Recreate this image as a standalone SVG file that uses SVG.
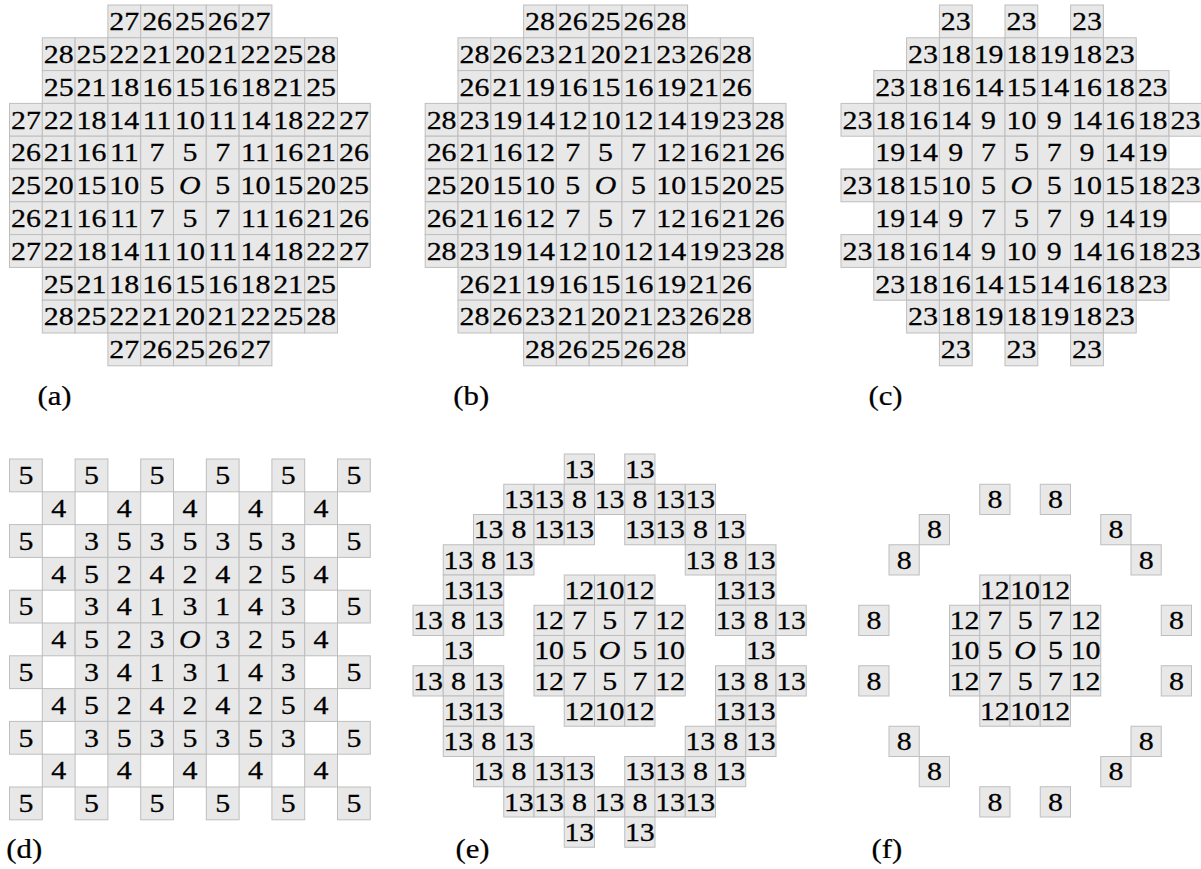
<svg xmlns="http://www.w3.org/2000/svg" width="1201" height="869" viewBox="0 0 1201 869">
<style>
rect{fill:#e8e8e8;stroke:#bebebe}
.g1 rect{stroke-width:0.305}
.g2 rect{stroke-width:0.33}
text{font-family:"Liberation Serif","Times New Roman",serif;fill:#000;stroke:#000}
.g1 text,.g2 text{text-anchor:middle;transform:scaleX(1.15);transform-box:fill-box;transform-origin:50% 50%}
.g1 text{font-size:7.93px;stroke-width:0.08}
.g2 text{font-size:8.6px;stroke-width:0.087}
.o{font-style:italic}
.lab{font-size:28px;stroke-width:0.25;transform:scaleX(1.1);transform-box:fill-box;transform-origin:50% 50%}
</style>
<rect width="1201" height="869" style="fill:#fff;stroke:none"/>

<g id="grid-a" class="g1" transform="translate(9.5,5) scale(3.28)">
<rect x="30" y="0" width="10" height="10"/><rect x="40" y="0" width="10" height="10"/><rect x="50" y="0" width="10" height="10"/><rect x="60" y="0" width="10" height="10"/><rect x="70" y="0" width="10" height="10"/>
<rect x="10" y="10" width="10" height="10"/><rect x="20" y="10" width="10" height="10"/><rect x="30" y="10" width="10" height="10"/><rect x="40" y="10" width="10" height="10"/><rect x="50" y="10" width="10" height="10"/><rect x="60" y="10" width="10" height="10"/><rect x="70" y="10" width="10" height="10"/><rect x="80" y="10" width="10" height="10"/><rect x="90" y="10" width="10" height="10"/>
<rect x="10" y="20" width="10" height="10"/><rect x="20" y="20" width="10" height="10"/><rect x="30" y="20" width="10" height="10"/><rect x="40" y="20" width="10" height="10"/><rect x="50" y="20" width="10" height="10"/><rect x="60" y="20" width="10" height="10"/><rect x="70" y="20" width="10" height="10"/><rect x="80" y="20" width="10" height="10"/><rect x="90" y="20" width="10" height="10"/>
<rect x="0" y="30" width="10" height="10"/><rect x="10" y="30" width="10" height="10"/><rect x="20" y="30" width="10" height="10"/><rect x="30" y="30" width="10" height="10"/><rect x="40" y="30" width="10" height="10"/><rect x="50" y="30" width="10" height="10"/><rect x="60" y="30" width="10" height="10"/><rect x="70" y="30" width="10" height="10"/><rect x="80" y="30" width="10" height="10"/><rect x="90" y="30" width="10" height="10"/><rect x="100" y="30" width="10" height="10"/>
<rect x="0" y="40" width="10" height="10"/><rect x="10" y="40" width="10" height="10"/><rect x="20" y="40" width="10" height="10"/><rect x="30" y="40" width="10" height="10"/><rect x="40" y="40" width="10" height="10"/><rect x="50" y="40" width="10" height="10"/><rect x="60" y="40" width="10" height="10"/><rect x="70" y="40" width="10" height="10"/><rect x="80" y="40" width="10" height="10"/><rect x="90" y="40" width="10" height="10"/><rect x="100" y="40" width="10" height="10"/>
<rect x="0" y="50" width="10" height="10"/><rect x="10" y="50" width="10" height="10"/><rect x="20" y="50" width="10" height="10"/><rect x="30" y="50" width="10" height="10"/><rect x="40" y="50" width="10" height="10"/><rect x="50" y="50" width="10" height="10"/><rect x="60" y="50" width="10" height="10"/><rect x="70" y="50" width="10" height="10"/><rect x="80" y="50" width="10" height="10"/><rect x="90" y="50" width="10" height="10"/><rect x="100" y="50" width="10" height="10"/>
<rect x="0" y="60" width="10" height="10"/><rect x="10" y="60" width="10" height="10"/><rect x="20" y="60" width="10" height="10"/><rect x="30" y="60" width="10" height="10"/><rect x="40" y="60" width="10" height="10"/><rect x="50" y="60" width="10" height="10"/><rect x="60" y="60" width="10" height="10"/><rect x="70" y="60" width="10" height="10"/><rect x="80" y="60" width="10" height="10"/><rect x="90" y="60" width="10" height="10"/><rect x="100" y="60" width="10" height="10"/>
<rect x="0" y="70" width="10" height="10"/><rect x="10" y="70" width="10" height="10"/><rect x="20" y="70" width="10" height="10"/><rect x="30" y="70" width="10" height="10"/><rect x="40" y="70" width="10" height="10"/><rect x="50" y="70" width="10" height="10"/><rect x="60" y="70" width="10" height="10"/><rect x="70" y="70" width="10" height="10"/><rect x="80" y="70" width="10" height="10"/><rect x="90" y="70" width="10" height="10"/><rect x="100" y="70" width="10" height="10"/>
<rect x="10" y="80" width="10" height="10"/><rect x="20" y="80" width="10" height="10"/><rect x="30" y="80" width="10" height="10"/><rect x="40" y="80" width="10" height="10"/><rect x="50" y="80" width="10" height="10"/><rect x="60" y="80" width="10" height="10"/><rect x="70" y="80" width="10" height="10"/><rect x="80" y="80" width="10" height="10"/><rect x="90" y="80" width="10" height="10"/>
<rect x="10" y="90" width="10" height="10"/><rect x="20" y="90" width="10" height="10"/><rect x="30" y="90" width="10" height="10"/><rect x="40" y="90" width="10" height="10"/><rect x="50" y="90" width="10" height="10"/><rect x="60" y="90" width="10" height="10"/><rect x="70" y="90" width="10" height="10"/><rect x="80" y="90" width="10" height="10"/><rect x="90" y="90" width="10" height="10"/>
<rect x="30" y="100" width="10" height="10"/><rect x="40" y="100" width="10" height="10"/><rect x="50" y="100" width="10" height="10"/><rect x="60" y="100" width="10" height="10"/><rect x="70" y="100" width="10" height="10"/>
<text x="35" y="7.68">27</text><text x="45" y="7.68">26</text><text x="55" y="7.68">25</text><text x="65" y="7.68">26</text><text x="75" y="7.68">27</text>
<text x="15" y="17.68">28</text><text x="25" y="17.68">25</text><text x="35" y="17.68">22</text><text x="45" y="17.68">21</text><text x="55" y="17.68">20</text><text x="65" y="17.68">21</text><text x="75" y="17.68">22</text><text x="85" y="17.68">25</text><text x="95" y="17.68">28</text>
<text x="15" y="27.68">25</text><text x="25" y="27.68">21</text><text x="35" y="27.68">18</text><text x="45" y="27.68">16</text><text x="55" y="27.68">15</text><text x="65" y="27.68">16</text><text x="75" y="27.68">18</text><text x="85" y="27.68">21</text><text x="95" y="27.68">25</text>
<text x="5" y="37.68">27</text><text x="15" y="37.68">22</text><text x="25" y="37.68">18</text><text x="35" y="37.68">14</text><text x="45" y="37.68">11</text><text x="55" y="37.68">10</text><text x="65" y="37.68">11</text><text x="75" y="37.68">14</text><text x="85" y="37.68">18</text><text x="95" y="37.68">22</text><text x="105" y="37.68">27</text>
<text x="5" y="47.68">26</text><text x="15" y="47.68">21</text><text x="25" y="47.68">16</text><text x="35" y="47.68">11</text><text x="45" y="47.68">7</text><text x="55" y="47.68">5</text><text x="65" y="47.68">7</text><text x="75" y="47.68">11</text><text x="85" y="47.68">16</text><text x="95" y="47.68">21</text><text x="105" y="47.68">26</text>
<text x="5" y="57.68">25</text><text x="15" y="57.68">20</text><text x="25" y="57.68">15</text><text x="35" y="57.68">10</text><text x="45" y="57.68">5</text><text x="55" y="57.68" class="o">O</text><text x="65" y="57.68">5</text><text x="75" y="57.68">10</text><text x="85" y="57.68">15</text><text x="95" y="57.68">20</text><text x="105" y="57.68">25</text>
<text x="5" y="67.68">26</text><text x="15" y="67.68">21</text><text x="25" y="67.68">16</text><text x="35" y="67.68">11</text><text x="45" y="67.68">7</text><text x="55" y="67.68">5</text><text x="65" y="67.68">7</text><text x="75" y="67.68">11</text><text x="85" y="67.68">16</text><text x="95" y="67.68">21</text><text x="105" y="67.68">26</text>
<text x="5" y="77.68">27</text><text x="15" y="77.68">22</text><text x="25" y="77.68">18</text><text x="35" y="77.68">14</text><text x="45" y="77.68">11</text><text x="55" y="77.68">10</text><text x="65" y="77.68">11</text><text x="75" y="77.68">14</text><text x="85" y="77.68">18</text><text x="95" y="77.68">22</text><text x="105" y="77.68">27</text>
<text x="15" y="87.68">25</text><text x="25" y="87.68">21</text><text x="35" y="87.68">18</text><text x="45" y="87.68">16</text><text x="55" y="87.68">15</text><text x="65" y="87.68">16</text><text x="75" y="87.68">18</text><text x="85" y="87.68">21</text><text x="95" y="87.68">25</text>
<text x="15" y="97.68">28</text><text x="25" y="97.68">25</text><text x="35" y="97.68">22</text><text x="45" y="97.68">21</text><text x="55" y="97.68">20</text><text x="65" y="97.68">21</text><text x="75" y="97.68">22</text><text x="85" y="97.68">25</text><text x="95" y="97.68">28</text>
<text x="35" y="107.68">27</text><text x="45" y="107.68">26</text><text x="55" y="107.68">25</text><text x="65" y="107.68">26</text><text x="75" y="107.68">27</text>
</g>

<g id="grid-b" class="g1" transform="translate(425.2,5) scale(3.28)">
<rect x="30" y="0" width="10" height="10"/><rect x="40" y="0" width="10" height="10"/><rect x="50" y="0" width="10" height="10"/><rect x="60" y="0" width="10" height="10"/><rect x="70" y="0" width="10" height="10"/>
<rect x="10" y="10" width="10" height="10"/><rect x="20" y="10" width="10" height="10"/><rect x="30" y="10" width="10" height="10"/><rect x="40" y="10" width="10" height="10"/><rect x="50" y="10" width="10" height="10"/><rect x="60" y="10" width="10" height="10"/><rect x="70" y="10" width="10" height="10"/><rect x="80" y="10" width="10" height="10"/><rect x="90" y="10" width="10" height="10"/>
<rect x="10" y="20" width="10" height="10"/><rect x="20" y="20" width="10" height="10"/><rect x="30" y="20" width="10" height="10"/><rect x="40" y="20" width="10" height="10"/><rect x="50" y="20" width="10" height="10"/><rect x="60" y="20" width="10" height="10"/><rect x="70" y="20" width="10" height="10"/><rect x="80" y="20" width="10" height="10"/><rect x="90" y="20" width="10" height="10"/>
<rect x="0" y="30" width="10" height="10"/><rect x="10" y="30" width="10" height="10"/><rect x="20" y="30" width="10" height="10"/><rect x="30" y="30" width="10" height="10"/><rect x="40" y="30" width="10" height="10"/><rect x="50" y="30" width="10" height="10"/><rect x="60" y="30" width="10" height="10"/><rect x="70" y="30" width="10" height="10"/><rect x="80" y="30" width="10" height="10"/><rect x="90" y="30" width="10" height="10"/><rect x="100" y="30" width="10" height="10"/>
<rect x="0" y="40" width="10" height="10"/><rect x="10" y="40" width="10" height="10"/><rect x="20" y="40" width="10" height="10"/><rect x="30" y="40" width="10" height="10"/><rect x="40" y="40" width="10" height="10"/><rect x="50" y="40" width="10" height="10"/><rect x="60" y="40" width="10" height="10"/><rect x="70" y="40" width="10" height="10"/><rect x="80" y="40" width="10" height="10"/><rect x="90" y="40" width="10" height="10"/><rect x="100" y="40" width="10" height="10"/>
<rect x="0" y="50" width="10" height="10"/><rect x="10" y="50" width="10" height="10"/><rect x="20" y="50" width="10" height="10"/><rect x="30" y="50" width="10" height="10"/><rect x="40" y="50" width="10" height="10"/><rect x="50" y="50" width="10" height="10"/><rect x="60" y="50" width="10" height="10"/><rect x="70" y="50" width="10" height="10"/><rect x="80" y="50" width="10" height="10"/><rect x="90" y="50" width="10" height="10"/><rect x="100" y="50" width="10" height="10"/>
<rect x="0" y="60" width="10" height="10"/><rect x="10" y="60" width="10" height="10"/><rect x="20" y="60" width="10" height="10"/><rect x="30" y="60" width="10" height="10"/><rect x="40" y="60" width="10" height="10"/><rect x="50" y="60" width="10" height="10"/><rect x="60" y="60" width="10" height="10"/><rect x="70" y="60" width="10" height="10"/><rect x="80" y="60" width="10" height="10"/><rect x="90" y="60" width="10" height="10"/><rect x="100" y="60" width="10" height="10"/>
<rect x="0" y="70" width="10" height="10"/><rect x="10" y="70" width="10" height="10"/><rect x="20" y="70" width="10" height="10"/><rect x="30" y="70" width="10" height="10"/><rect x="40" y="70" width="10" height="10"/><rect x="50" y="70" width="10" height="10"/><rect x="60" y="70" width="10" height="10"/><rect x="70" y="70" width="10" height="10"/><rect x="80" y="70" width="10" height="10"/><rect x="90" y="70" width="10" height="10"/><rect x="100" y="70" width="10" height="10"/>
<rect x="10" y="80" width="10" height="10"/><rect x="20" y="80" width="10" height="10"/><rect x="30" y="80" width="10" height="10"/><rect x="40" y="80" width="10" height="10"/><rect x="50" y="80" width="10" height="10"/><rect x="60" y="80" width="10" height="10"/><rect x="70" y="80" width="10" height="10"/><rect x="80" y="80" width="10" height="10"/><rect x="90" y="80" width="10" height="10"/>
<rect x="10" y="90" width="10" height="10"/><rect x="20" y="90" width="10" height="10"/><rect x="30" y="90" width="10" height="10"/><rect x="40" y="90" width="10" height="10"/><rect x="50" y="90" width="10" height="10"/><rect x="60" y="90" width="10" height="10"/><rect x="70" y="90" width="10" height="10"/><rect x="80" y="90" width="10" height="10"/><rect x="90" y="90" width="10" height="10"/>
<rect x="30" y="100" width="10" height="10"/><rect x="40" y="100" width="10" height="10"/><rect x="50" y="100" width="10" height="10"/><rect x="60" y="100" width="10" height="10"/><rect x="70" y="100" width="10" height="10"/>
<text x="35" y="7.68">28</text><text x="45" y="7.68">26</text><text x="55" y="7.68">25</text><text x="65" y="7.68">26</text><text x="75" y="7.68">28</text>
<text x="15" y="17.68">28</text><text x="25" y="17.68">26</text><text x="35" y="17.68">23</text><text x="45" y="17.68">21</text><text x="55" y="17.68">20</text><text x="65" y="17.68">21</text><text x="75" y="17.68">23</text><text x="85" y="17.68">26</text><text x="95" y="17.68">28</text>
<text x="15" y="27.68">26</text><text x="25" y="27.68">21</text><text x="35" y="27.68">19</text><text x="45" y="27.68">16</text><text x="55" y="27.68">15</text><text x="65" y="27.68">16</text><text x="75" y="27.68">19</text><text x="85" y="27.68">21</text><text x="95" y="27.68">26</text>
<text x="5" y="37.68">28</text><text x="15" y="37.68">23</text><text x="25" y="37.68">19</text><text x="35" y="37.68">14</text><text x="45" y="37.68">12</text><text x="55" y="37.68">10</text><text x="65" y="37.68">12</text><text x="75" y="37.68">14</text><text x="85" y="37.68">19</text><text x="95" y="37.68">23</text><text x="105" y="37.68">28</text>
<text x="5" y="47.68">26</text><text x="15" y="47.68">21</text><text x="25" y="47.68">16</text><text x="35" y="47.68">12</text><text x="45" y="47.68">7</text><text x="55" y="47.68">5</text><text x="65" y="47.68">7</text><text x="75" y="47.68">12</text><text x="85" y="47.68">16</text><text x="95" y="47.68">21</text><text x="105" y="47.68">26</text>
<text x="5" y="57.68">25</text><text x="15" y="57.68">20</text><text x="25" y="57.68">15</text><text x="35" y="57.68">10</text><text x="45" y="57.68">5</text><text x="55" y="57.68" class="o">O</text><text x="65" y="57.68">5</text><text x="75" y="57.68">10</text><text x="85" y="57.68">15</text><text x="95" y="57.68">20</text><text x="105" y="57.68">25</text>
<text x="5" y="67.68">26</text><text x="15" y="67.68">21</text><text x="25" y="67.68">16</text><text x="35" y="67.68">12</text><text x="45" y="67.68">7</text><text x="55" y="67.68">5</text><text x="65" y="67.68">7</text><text x="75" y="67.68">12</text><text x="85" y="67.68">16</text><text x="95" y="67.68">21</text><text x="105" y="67.68">26</text>
<text x="5" y="77.68">28</text><text x="15" y="77.68">23</text><text x="25" y="77.68">19</text><text x="35" y="77.68">14</text><text x="45" y="77.68">12</text><text x="55" y="77.68">10</text><text x="65" y="77.68">12</text><text x="75" y="77.68">14</text><text x="85" y="77.68">19</text><text x="95" y="77.68">23</text><text x="105" y="77.68">28</text>
<text x="15" y="87.68">26</text><text x="25" y="87.68">21</text><text x="35" y="87.68">19</text><text x="45" y="87.68">16</text><text x="55" y="87.68">15</text><text x="65" y="87.68">16</text><text x="75" y="87.68">19</text><text x="85" y="87.68">21</text><text x="95" y="87.68">26</text>
<text x="15" y="97.68">28</text><text x="25" y="97.68">26</text><text x="35" y="97.68">23</text><text x="45" y="97.68">21</text><text x="55" y="97.68">20</text><text x="65" y="97.68">21</text><text x="75" y="97.68">23</text><text x="85" y="97.68">26</text><text x="95" y="97.68">28</text>
<text x="35" y="107.68">28</text><text x="45" y="107.68">26</text><text x="55" y="107.68">25</text><text x="65" y="107.68">26</text><text x="75" y="107.68">28</text>
</g>

<g id="grid-c" class="g1" transform="translate(841,5) scale(3.28)">
<rect x="30" y="0" width="10" height="10"/><rect x="50" y="0" width="10" height="10"/><rect x="70" y="0" width="10" height="10"/>
<rect x="20" y="10" width="10" height="10"/><rect x="30" y="10" width="10" height="10"/><rect x="40" y="10" width="10" height="10"/><rect x="50" y="10" width="10" height="10"/><rect x="60" y="10" width="10" height="10"/><rect x="70" y="10" width="10" height="10"/><rect x="80" y="10" width="10" height="10"/>
<rect x="10" y="20" width="10" height="10"/><rect x="20" y="20" width="10" height="10"/><rect x="30" y="20" width="10" height="10"/><rect x="40" y="20" width="10" height="10"/><rect x="50" y="20" width="10" height="10"/><rect x="60" y="20" width="10" height="10"/><rect x="70" y="20" width="10" height="10"/><rect x="80" y="20" width="10" height="10"/><rect x="90" y="20" width="10" height="10"/>
<rect x="0" y="30" width="10" height="10"/><rect x="10" y="30" width="10" height="10"/><rect x="20" y="30" width="10" height="10"/><rect x="30" y="30" width="10" height="10"/><rect x="40" y="30" width="10" height="10"/><rect x="50" y="30" width="10" height="10"/><rect x="60" y="30" width="10" height="10"/><rect x="70" y="30" width="10" height="10"/><rect x="80" y="30" width="10" height="10"/><rect x="90" y="30" width="10" height="10"/><rect x="100" y="30" width="10" height="10"/>
<rect x="10" y="40" width="10" height="10"/><rect x="20" y="40" width="10" height="10"/><rect x="30" y="40" width="10" height="10"/><rect x="40" y="40" width="10" height="10"/><rect x="50" y="40" width="10" height="10"/><rect x="60" y="40" width="10" height="10"/><rect x="70" y="40" width="10" height="10"/><rect x="80" y="40" width="10" height="10"/><rect x="90" y="40" width="10" height="10"/>
<rect x="0" y="50" width="10" height="10"/><rect x="10" y="50" width="10" height="10"/><rect x="20" y="50" width="10" height="10"/><rect x="30" y="50" width="10" height="10"/><rect x="40" y="50" width="10" height="10"/><rect x="50" y="50" width="10" height="10"/><rect x="60" y="50" width="10" height="10"/><rect x="70" y="50" width="10" height="10"/><rect x="80" y="50" width="10" height="10"/><rect x="90" y="50" width="10" height="10"/><rect x="100" y="50" width="10" height="10"/>
<rect x="10" y="60" width="10" height="10"/><rect x="20" y="60" width="10" height="10"/><rect x="30" y="60" width="10" height="10"/><rect x="40" y="60" width="10" height="10"/><rect x="50" y="60" width="10" height="10"/><rect x="60" y="60" width="10" height="10"/><rect x="70" y="60" width="10" height="10"/><rect x="80" y="60" width="10" height="10"/><rect x="90" y="60" width="10" height="10"/>
<rect x="0" y="70" width="10" height="10"/><rect x="10" y="70" width="10" height="10"/><rect x="20" y="70" width="10" height="10"/><rect x="30" y="70" width="10" height="10"/><rect x="40" y="70" width="10" height="10"/><rect x="50" y="70" width="10" height="10"/><rect x="60" y="70" width="10" height="10"/><rect x="70" y="70" width="10" height="10"/><rect x="80" y="70" width="10" height="10"/><rect x="90" y="70" width="10" height="10"/><rect x="100" y="70" width="10" height="10"/>
<rect x="10" y="80" width="10" height="10"/><rect x="20" y="80" width="10" height="10"/><rect x="30" y="80" width="10" height="10"/><rect x="40" y="80" width="10" height="10"/><rect x="50" y="80" width="10" height="10"/><rect x="60" y="80" width="10" height="10"/><rect x="70" y="80" width="10" height="10"/><rect x="80" y="80" width="10" height="10"/><rect x="90" y="80" width="10" height="10"/>
<rect x="20" y="90" width="10" height="10"/><rect x="30" y="90" width="10" height="10"/><rect x="40" y="90" width="10" height="10"/><rect x="50" y="90" width="10" height="10"/><rect x="60" y="90" width="10" height="10"/><rect x="70" y="90" width="10" height="10"/><rect x="80" y="90" width="10" height="10"/>
<rect x="30" y="100" width="10" height="10"/><rect x="50" y="100" width="10" height="10"/><rect x="70" y="100" width="10" height="10"/>
<text x="35" y="7.68">23</text><text x="55" y="7.68">23</text><text x="75" y="7.68">23</text>
<text x="25" y="17.68">23</text><text x="35" y="17.68">18</text><text x="45" y="17.68">19</text><text x="55" y="17.68">18</text><text x="65" y="17.68">19</text><text x="75" y="17.68">18</text><text x="85" y="17.68">23</text>
<text x="15" y="27.68">23</text><text x="25" y="27.68">18</text><text x="35" y="27.68">16</text><text x="45" y="27.68">14</text><text x="55" y="27.68">15</text><text x="65" y="27.68">14</text><text x="75" y="27.68">16</text><text x="85" y="27.68">18</text><text x="95" y="27.68">23</text>
<text x="5" y="37.68">23</text><text x="15" y="37.68">18</text><text x="25" y="37.68">16</text><text x="35" y="37.68">14</text><text x="45" y="37.68">9</text><text x="55" y="37.68">10</text><text x="65" y="37.68">9</text><text x="75" y="37.68">14</text><text x="85" y="37.68">16</text><text x="95" y="37.68">18</text><text x="105" y="37.68">23</text>
<text x="15" y="47.68">19</text><text x="25" y="47.68">14</text><text x="35" y="47.68">9</text><text x="45" y="47.68">7</text><text x="55" y="47.68">5</text><text x="65" y="47.68">7</text><text x="75" y="47.68">9</text><text x="85" y="47.68">14</text><text x="95" y="47.68">19</text>
<text x="5" y="57.68">23</text><text x="15" y="57.68">18</text><text x="25" y="57.68">15</text><text x="35" y="57.68">10</text><text x="45" y="57.68">5</text><text x="55" y="57.68" class="o">O</text><text x="65" y="57.68">5</text><text x="75" y="57.68">10</text><text x="85" y="57.68">15</text><text x="95" y="57.68">18</text><text x="105" y="57.68">23</text>
<text x="15" y="67.68">19</text><text x="25" y="67.68">14</text><text x="35" y="67.68">9</text><text x="45" y="67.68">7</text><text x="55" y="67.68">5</text><text x="65" y="67.68">7</text><text x="75" y="67.68">9</text><text x="85" y="67.68">14</text><text x="95" y="67.68">19</text>
<text x="5" y="77.68">23</text><text x="15" y="77.68">18</text><text x="25" y="77.68">16</text><text x="35" y="77.68">14</text><text x="45" y="77.68">9</text><text x="55" y="77.68">10</text><text x="65" y="77.68">9</text><text x="75" y="77.68">14</text><text x="85" y="77.68">16</text><text x="95" y="77.68">18</text><text x="105" y="77.68">23</text>
<text x="15" y="87.68">23</text><text x="25" y="87.68">18</text><text x="35" y="87.68">16</text><text x="45" y="87.68">14</text><text x="55" y="87.68">15</text><text x="65" y="87.68">14</text><text x="75" y="87.68">16</text><text x="85" y="87.68">18</text><text x="95" y="87.68">23</text>
<text x="25" y="97.68">23</text><text x="35" y="97.68">18</text><text x="45" y="97.68">19</text><text x="55" y="97.68">18</text><text x="65" y="97.68">19</text><text x="75" y="97.68">18</text><text x="85" y="97.68">23</text>
<text x="35" y="107.68">23</text><text x="55" y="107.68">23</text><text x="75" y="107.68">23</text>
</g>

<g id="grid-d" class="g1" transform="translate(9.5,459) scale(3.28)">
<rect x="0" y="0" width="10" height="10"/><rect x="20" y="0" width="10" height="10"/><rect x="40" y="0" width="10" height="10"/><rect x="60" y="0" width="10" height="10"/><rect x="80" y="0" width="10" height="10"/><rect x="100" y="0" width="10" height="10"/>
<rect x="10" y="10" width="10" height="10"/><rect x="30" y="10" width="10" height="10"/><rect x="50" y="10" width="10" height="10"/><rect x="70" y="10" width="10" height="10"/><rect x="90" y="10" width="10" height="10"/>
<rect x="0" y="20" width="10" height="10"/><rect x="20" y="20" width="10" height="10"/><rect x="30" y="20" width="10" height="10"/><rect x="40" y="20" width="10" height="10"/><rect x="50" y="20" width="10" height="10"/><rect x="60" y="20" width="10" height="10"/><rect x="70" y="20" width="10" height="10"/><rect x="80" y="20" width="10" height="10"/><rect x="100" y="20" width="10" height="10"/>
<rect x="10" y="30" width="10" height="10"/><rect x="20" y="30" width="10" height="10"/><rect x="30" y="30" width="10" height="10"/><rect x="40" y="30" width="10" height="10"/><rect x="50" y="30" width="10" height="10"/><rect x="60" y="30" width="10" height="10"/><rect x="70" y="30" width="10" height="10"/><rect x="80" y="30" width="10" height="10"/><rect x="90" y="30" width="10" height="10"/>
<rect x="0" y="40" width="10" height="10"/><rect x="20" y="40" width="10" height="10"/><rect x="30" y="40" width="10" height="10"/><rect x="40" y="40" width="10" height="10"/><rect x="50" y="40" width="10" height="10"/><rect x="60" y="40" width="10" height="10"/><rect x="70" y="40" width="10" height="10"/><rect x="80" y="40" width="10" height="10"/><rect x="100" y="40" width="10" height="10"/>
<rect x="10" y="50" width="10" height="10"/><rect x="20" y="50" width="10" height="10"/><rect x="30" y="50" width="10" height="10"/><rect x="40" y="50" width="10" height="10"/><rect x="50" y="50" width="10" height="10"/><rect x="60" y="50" width="10" height="10"/><rect x="70" y="50" width="10" height="10"/><rect x="80" y="50" width="10" height="10"/><rect x="90" y="50" width="10" height="10"/>
<rect x="0" y="60" width="10" height="10"/><rect x="20" y="60" width="10" height="10"/><rect x="30" y="60" width="10" height="10"/><rect x="40" y="60" width="10" height="10"/><rect x="50" y="60" width="10" height="10"/><rect x="60" y="60" width="10" height="10"/><rect x="70" y="60" width="10" height="10"/><rect x="80" y="60" width="10" height="10"/><rect x="100" y="60" width="10" height="10"/>
<rect x="10" y="70" width="10" height="10"/><rect x="20" y="70" width="10" height="10"/><rect x="30" y="70" width="10" height="10"/><rect x="40" y="70" width="10" height="10"/><rect x="50" y="70" width="10" height="10"/><rect x="60" y="70" width="10" height="10"/><rect x="70" y="70" width="10" height="10"/><rect x="80" y="70" width="10" height="10"/><rect x="90" y="70" width="10" height="10"/>
<rect x="0" y="80" width="10" height="10"/><rect x="20" y="80" width="10" height="10"/><rect x="30" y="80" width="10" height="10"/><rect x="40" y="80" width="10" height="10"/><rect x="50" y="80" width="10" height="10"/><rect x="60" y="80" width="10" height="10"/><rect x="70" y="80" width="10" height="10"/><rect x="80" y="80" width="10" height="10"/><rect x="100" y="80" width="10" height="10"/>
<rect x="10" y="90" width="10" height="10"/><rect x="30" y="90" width="10" height="10"/><rect x="50" y="90" width="10" height="10"/><rect x="70" y="90" width="10" height="10"/><rect x="90" y="90" width="10" height="10"/>
<rect x="0" y="100" width="10" height="10"/><rect x="20" y="100" width="10" height="10"/><rect x="40" y="100" width="10" height="10"/><rect x="60" y="100" width="10" height="10"/><rect x="80" y="100" width="10" height="10"/><rect x="100" y="100" width="10" height="10"/>
<text x="5" y="7.68">5</text><text x="25" y="7.68">5</text><text x="45" y="7.68">5</text><text x="65" y="7.68">5</text><text x="85" y="7.68">5</text><text x="105" y="7.68">5</text>
<text x="15" y="17.68">4</text><text x="35" y="17.68">4</text><text x="55" y="17.68">4</text><text x="75" y="17.68">4</text><text x="95" y="17.68">4</text>
<text x="5" y="27.68">5</text><text x="25" y="27.68">3</text><text x="35" y="27.68">5</text><text x="45" y="27.68">3</text><text x="55" y="27.68">5</text><text x="65" y="27.68">3</text><text x="75" y="27.68">5</text><text x="85" y="27.68">3</text><text x="105" y="27.68">5</text>
<text x="15" y="37.68">4</text><text x="25" y="37.68">5</text><text x="35" y="37.68">2</text><text x="45" y="37.68">4</text><text x="55" y="37.68">2</text><text x="65" y="37.68">4</text><text x="75" y="37.68">2</text><text x="85" y="37.68">5</text><text x="95" y="37.68">4</text>
<text x="5" y="47.68">5</text><text x="25" y="47.68">3</text><text x="35" y="47.68">4</text><text x="45" y="47.68">1</text><text x="55" y="47.68">3</text><text x="65" y="47.68">1</text><text x="75" y="47.68">4</text><text x="85" y="47.68">3</text><text x="105" y="47.68">5</text>
<text x="15" y="57.68">4</text><text x="25" y="57.68">5</text><text x="35" y="57.68">2</text><text x="45" y="57.68">3</text><text x="55" y="57.68" class="o">O</text><text x="65" y="57.68">3</text><text x="75" y="57.68">2</text><text x="85" y="57.68">5</text><text x="95" y="57.68">4</text>
<text x="5" y="67.68">5</text><text x="25" y="67.68">3</text><text x="35" y="67.68">4</text><text x="45" y="67.68">1</text><text x="55" y="67.68">3</text><text x="65" y="67.68">1</text><text x="75" y="67.68">4</text><text x="85" y="67.68">3</text><text x="105" y="67.68">5</text>
<text x="15" y="77.68">4</text><text x="25" y="77.68">5</text><text x="35" y="77.68">2</text><text x="45" y="77.68">4</text><text x="55" y="77.68">2</text><text x="65" y="77.68">4</text><text x="75" y="77.68">2</text><text x="85" y="77.68">5</text><text x="95" y="77.68">4</text>
<text x="5" y="87.68">5</text><text x="25" y="87.68">3</text><text x="35" y="87.68">5</text><text x="45" y="87.68">3</text><text x="55" y="87.68">5</text><text x="65" y="87.68">3</text><text x="75" y="87.68">5</text><text x="85" y="87.68">3</text><text x="105" y="87.68">5</text>
<text x="15" y="97.68">4</text><text x="35" y="97.68">4</text><text x="55" y="97.68">4</text><text x="75" y="97.68">4</text><text x="95" y="97.68">4</text>
<text x="5" y="107.68">5</text><text x="25" y="107.68">5</text><text x="45" y="107.68">5</text><text x="65" y="107.68">5</text><text x="85" y="107.68">5</text><text x="105" y="107.68">5</text>
</g>

<g id="grid-e" class="g2" transform="translate(413,454) scale(3.025)">
<rect x="50" y="0" width="10" height="10"/><rect x="70" y="0" width="10" height="10"/>
<rect x="30" y="10" width="10" height="10"/><rect x="40" y="10" width="10" height="10"/><rect x="50" y="10" width="10" height="10"/><rect x="60" y="10" width="10" height="10"/><rect x="70" y="10" width="10" height="10"/><rect x="80" y="10" width="10" height="10"/><rect x="90" y="10" width="10" height="10"/>
<rect x="20" y="20" width="10" height="10"/><rect x="30" y="20" width="10" height="10"/><rect x="40" y="20" width="10" height="10"/><rect x="50" y="20" width="10" height="10"/><rect x="70" y="20" width="10" height="10"/><rect x="80" y="20" width="10" height="10"/><rect x="90" y="20" width="10" height="10"/><rect x="100" y="20" width="10" height="10"/>
<rect x="10" y="30" width="10" height="10"/><rect x="20" y="30" width="10" height="10"/><rect x="30" y="30" width="10" height="10"/><rect x="90" y="30" width="10" height="10"/><rect x="100" y="30" width="10" height="10"/><rect x="110" y="30" width="10" height="10"/>
<rect x="10" y="40" width="10" height="10"/><rect x="20" y="40" width="10" height="10"/><rect x="50" y="40" width="10" height="10"/><rect x="60" y="40" width="10" height="10"/><rect x="70" y="40" width="10" height="10"/><rect x="100" y="40" width="10" height="10"/><rect x="110" y="40" width="10" height="10"/>
<rect x="0" y="50" width="10" height="10"/><rect x="10" y="50" width="10" height="10"/><rect x="20" y="50" width="10" height="10"/><rect x="40" y="50" width="10" height="10"/><rect x="50" y="50" width="10" height="10"/><rect x="60" y="50" width="10" height="10"/><rect x="70" y="50" width="10" height="10"/><rect x="80" y="50" width="10" height="10"/><rect x="100" y="50" width="10" height="10"/><rect x="110" y="50" width="10" height="10"/><rect x="120" y="50" width="10" height="10"/>
<rect x="10" y="60" width="10" height="10"/><rect x="40" y="60" width="10" height="10"/><rect x="50" y="60" width="10" height="10"/><rect x="60" y="60" width="10" height="10"/><rect x="70" y="60" width="10" height="10"/><rect x="80" y="60" width="10" height="10"/><rect x="110" y="60" width="10" height="10"/>
<rect x="0" y="70" width="10" height="10"/><rect x="10" y="70" width="10" height="10"/><rect x="20" y="70" width="10" height="10"/><rect x="40" y="70" width="10" height="10"/><rect x="50" y="70" width="10" height="10"/><rect x="60" y="70" width="10" height="10"/><rect x="70" y="70" width="10" height="10"/><rect x="80" y="70" width="10" height="10"/><rect x="100" y="70" width="10" height="10"/><rect x="110" y="70" width="10" height="10"/><rect x="120" y="70" width="10" height="10"/>
<rect x="10" y="80" width="10" height="10"/><rect x="20" y="80" width="10" height="10"/><rect x="50" y="80" width="10" height="10"/><rect x="60" y="80" width="10" height="10"/><rect x="70" y="80" width="10" height="10"/><rect x="100" y="80" width="10" height="10"/><rect x="110" y="80" width="10" height="10"/>
<rect x="10" y="90" width="10" height="10"/><rect x="20" y="90" width="10" height="10"/><rect x="30" y="90" width="10" height="10"/><rect x="90" y="90" width="10" height="10"/><rect x="100" y="90" width="10" height="10"/><rect x="110" y="90" width="10" height="10"/>
<rect x="20" y="100" width="10" height="10"/><rect x="30" y="100" width="10" height="10"/><rect x="40" y="100" width="10" height="10"/><rect x="50" y="100" width="10" height="10"/><rect x="70" y="100" width="10" height="10"/><rect x="80" y="100" width="10" height="10"/><rect x="90" y="100" width="10" height="10"/><rect x="100" y="100" width="10" height="10"/>
<rect x="30" y="110" width="10" height="10"/><rect x="40" y="110" width="10" height="10"/><rect x="50" y="110" width="10" height="10"/><rect x="60" y="110" width="10" height="10"/><rect x="70" y="110" width="10" height="10"/><rect x="80" y="110" width="10" height="10"/><rect x="90" y="110" width="10" height="10"/>
<rect x="50" y="120" width="10" height="10"/><rect x="70" y="120" width="10" height="10"/>
<text x="55" y="7.91">13</text><text x="75" y="7.91">13</text>
<text x="35" y="17.91">13</text><text x="45" y="17.91">13</text><text x="55" y="17.91">8</text><text x="65" y="17.91">13</text><text x="75" y="17.91">8</text><text x="85" y="17.91">13</text><text x="95" y="17.91">13</text>
<text x="25" y="27.91">13</text><text x="35" y="27.91">8</text><text x="45" y="27.91">13</text><text x="55" y="27.91">13</text><text x="75" y="27.91">13</text><text x="85" y="27.91">13</text><text x="95" y="27.91">8</text><text x="105" y="27.91">13</text>
<text x="15" y="37.91">13</text><text x="25" y="37.91">8</text><text x="35" y="37.91">13</text><text x="95" y="37.91">13</text><text x="105" y="37.91">8</text><text x="115" y="37.91">13</text>
<text x="15" y="47.91">13</text><text x="25" y="47.91">13</text><text x="55" y="47.91">12</text><text x="65" y="47.91">10</text><text x="75" y="47.91">12</text><text x="105" y="47.91">13</text><text x="115" y="47.91">13</text>
<text x="5" y="57.91">13</text><text x="15" y="57.91">8</text><text x="25" y="57.91">13</text><text x="45" y="57.91">12</text><text x="55" y="57.91">7</text><text x="65" y="57.91">5</text><text x="75" y="57.91">7</text><text x="85" y="57.91">12</text><text x="105" y="57.91">13</text><text x="115" y="57.91">8</text><text x="125" y="57.91">13</text>
<text x="15" y="67.91">13</text><text x="45" y="67.91">10</text><text x="55" y="67.91">5</text><text x="65" y="67.91" class="o">O</text><text x="75" y="67.91">5</text><text x="85" y="67.91">10</text><text x="115" y="67.91">13</text>
<text x="5" y="77.91">13</text><text x="15" y="77.91">8</text><text x="25" y="77.91">13</text><text x="45" y="77.91">12</text><text x="55" y="77.91">7</text><text x="65" y="77.91">5</text><text x="75" y="77.91">7</text><text x="85" y="77.91">12</text><text x="105" y="77.91">13</text><text x="115" y="77.91">8</text><text x="125" y="77.91">13</text>
<text x="15" y="87.91">13</text><text x="25" y="87.91">13</text><text x="55" y="87.91">12</text><text x="65" y="87.91">10</text><text x="75" y="87.91">12</text><text x="105" y="87.91">13</text><text x="115" y="87.91">13</text>
<text x="15" y="97.91">13</text><text x="25" y="97.91">8</text><text x="35" y="97.91">13</text><text x="95" y="97.91">13</text><text x="105" y="97.91">8</text><text x="115" y="97.91">13</text>
<text x="25" y="107.91">13</text><text x="35" y="107.91">8</text><text x="45" y="107.91">13</text><text x="55" y="107.91">13</text><text x="75" y="107.91">13</text><text x="85" y="107.91">13</text><text x="95" y="107.91">8</text><text x="105" y="107.91">13</text>
<text x="35" y="117.91">13</text><text x="45" y="117.91">13</text><text x="55" y="117.91">8</text><text x="65" y="117.91">13</text><text x="75" y="117.91">8</text><text x="85" y="117.91">13</text><text x="95" y="117.91">13</text>
<text x="55" y="127.91">13</text><text x="75" y="127.91">13</text>
</g>

<g id="grid-f" class="g2" transform="translate(828.5,454) scale(3.025)">
<rect x="50" y="10" width="10" height="10"/><rect x="70" y="10" width="10" height="10"/>
<rect x="30" y="20" width="10" height="10"/><rect x="90" y="20" width="10" height="10"/>
<rect x="20" y="30" width="10" height="10"/><rect x="100" y="30" width="10" height="10"/>
<rect x="50" y="40" width="10" height="10"/><rect x="60" y="40" width="10" height="10"/><rect x="70" y="40" width="10" height="10"/>
<rect x="10" y="50" width="10" height="10"/><rect x="40" y="50" width="10" height="10"/><rect x="50" y="50" width="10" height="10"/><rect x="60" y="50" width="10" height="10"/><rect x="70" y="50" width="10" height="10"/><rect x="80" y="50" width="10" height="10"/><rect x="110" y="50" width="10" height="10"/>
<rect x="40" y="60" width="10" height="10"/><rect x="50" y="60" width="10" height="10"/><rect x="60" y="60" width="10" height="10"/><rect x="70" y="60" width="10" height="10"/><rect x="80" y="60" width="10" height="10"/>
<rect x="10" y="70" width="10" height="10"/><rect x="40" y="70" width="10" height="10"/><rect x="50" y="70" width="10" height="10"/><rect x="60" y="70" width="10" height="10"/><rect x="70" y="70" width="10" height="10"/><rect x="80" y="70" width="10" height="10"/><rect x="110" y="70" width="10" height="10"/>
<rect x="50" y="80" width="10" height="10"/><rect x="60" y="80" width="10" height="10"/><rect x="70" y="80" width="10" height="10"/>
<rect x="20" y="90" width="10" height="10"/><rect x="100" y="90" width="10" height="10"/>
<rect x="30" y="100" width="10" height="10"/><rect x="90" y="100" width="10" height="10"/>
<rect x="50" y="110" width="10" height="10"/><rect x="70" y="110" width="10" height="10"/>
<text x="55" y="17.91">8</text><text x="75" y="17.91">8</text>
<text x="35" y="27.91">8</text><text x="95" y="27.91">8</text>
<text x="25" y="37.91">8</text><text x="105" y="37.91">8</text>
<text x="55" y="47.91">12</text><text x="65" y="47.91">10</text><text x="75" y="47.91">12</text>
<text x="15" y="57.91">8</text><text x="45" y="57.91">12</text><text x="55" y="57.91">7</text><text x="65" y="57.91">5</text><text x="75" y="57.91">7</text><text x="85" y="57.91">12</text><text x="115" y="57.91">8</text>
<text x="45" y="67.91">10</text><text x="55" y="67.91">5</text><text x="65" y="67.91" class="o">O</text><text x="75" y="67.91">5</text><text x="85" y="67.91">10</text>
<text x="15" y="77.91">8</text><text x="45" y="77.91">12</text><text x="55" y="77.91">7</text><text x="65" y="77.91">5</text><text x="75" y="77.91">7</text><text x="85" y="77.91">12</text><text x="115" y="77.91">8</text>
<text x="55" y="87.91">12</text><text x="65" y="87.91">10</text><text x="75" y="87.91">12</text>
<text x="25" y="97.91">8</text><text x="105" y="97.91">8</text>
<text x="35" y="107.91">8</text><text x="95" y="107.91">8</text>
<text x="55" y="117.91">8</text><text x="75" y="117.91">8</text>
</g>

<g id="labels">
<text class="lab" x="39" y="405.5">(a)</text>
<text class="lab" x="455" y="405.5">(b)</text>
<text class="lab" x="870" y="405.5">(c)</text>
<text class="lab" x="8" y="858.5">(d)</text>
<text class="lab" x="457" y="858.5">(e)</text>
<text class="lab" x="873" y="858.5">(f)</text>
</g>
</svg>
